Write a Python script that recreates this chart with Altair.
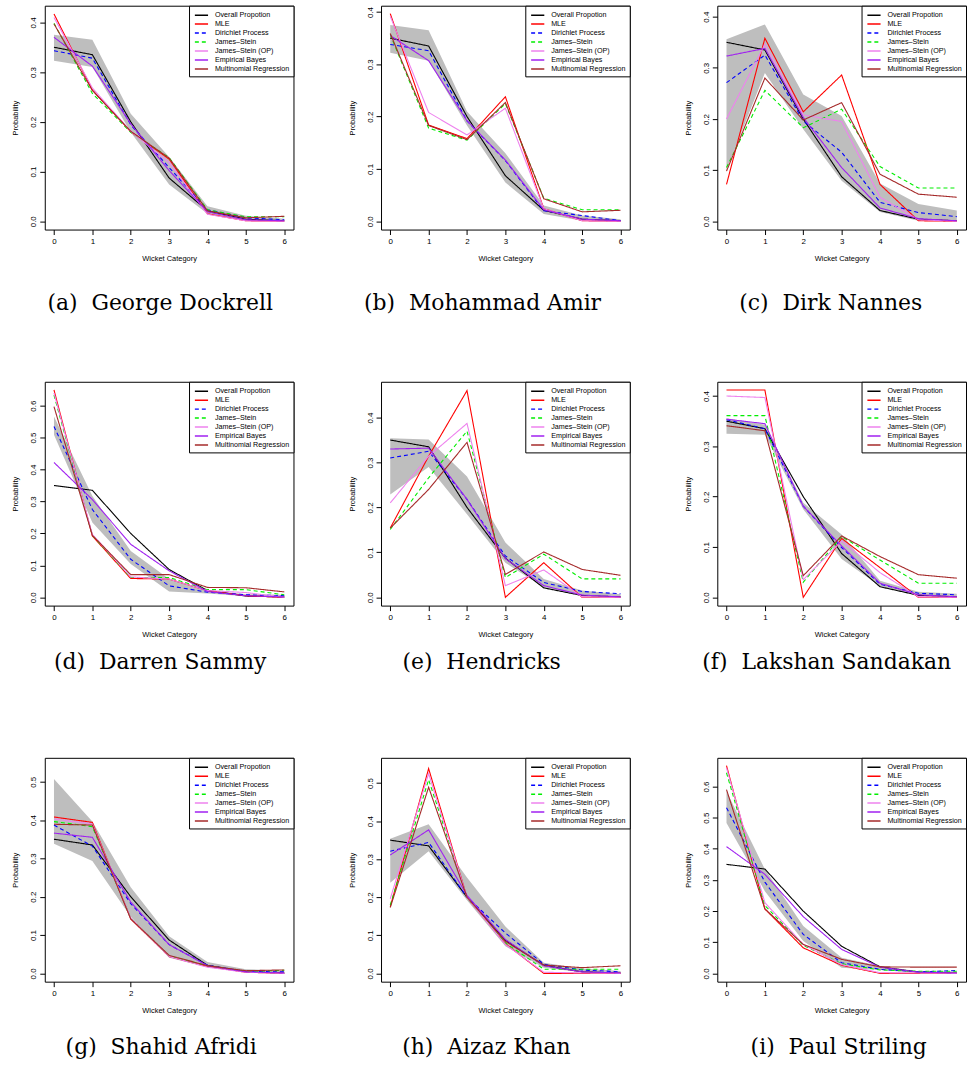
import altair as alt
import pandas as pd

X = [0, 1, 2, 3, 4, 5, 6]
METHODS = ["Overall Propotion", "MLE", "Dirichlet Process", "James\u2013Stein",
           "James\u2013Stein (OP)", "Empirical Bayes", "Multinomial Regression"]
COLORS = ["#000000", "#FF0000", "#0000FF", "#00EE00", "#EE82EE", "#A020F0", "#A52A2A"]
DASHES = [[1, 0], [1, 0], [4, 3], [4, 3], [1, 0], [1, 0], [1, 0]]

OVERALL = [0.350, 0.335, 0.200, 0.087, 0.021, 0.004, 0.001]

# (a) George Dockrell
A_MLE = [0.417, 0.264, 0.180, 0.125, 0.015, 0.001, 0.000]
A_DP = [0.343, 0.328, 0.194, 0.108, 0.023, 0.007, 0.003]
A_JS = [0.398, 0.257, 0.179, 0.128, 0.023, 0.009, 0.009]
A_JSOP = [0.410, 0.268, 0.181, 0.118, 0.014, 0.001, 0.000]
A_EB = [0.370, 0.312, 0.196, 0.102, 0.019, 0.003, 0.001]
A_MR = [0.397, 0.263, 0.181, 0.127, 0.021, 0.007, 0.010]
A_LO = [0.323, 0.310, 0.179, 0.074, 0.015, 0.001, 0.000]
A_HI = [0.375, 0.365, 0.216, 0.129, 0.030, 0.011, 0.005]

# (b) Mohammad Amir
B_MLE = [0.397, 0.184, 0.158, 0.238, 0.024, 0.001, 0.000]
B_DP = [0.338, 0.326, 0.192, 0.116, 0.020, 0.011, 0.001]
B_JS = [0.357, 0.178, 0.155, 0.225, 0.044, 0.022, 0.022]
B_JSOP = [0.392, 0.208, 0.165, 0.216, 0.024, 0.001, 0.000]
B_EB = [0.355, 0.307, 0.192, 0.117, 0.022, 0.004, 0.001]
B_MR = [0.359, 0.183, 0.156, 0.227, 0.043, 0.018, 0.021]
B_LO = [0.322, 0.307, 0.183, 0.074, 0.014, 0.001, 0.000]
B_HI = [0.375, 0.365, 0.210, 0.130, 0.030, 0.011, 0.004]

# (c) Dirk Nannes
C_MLE = [0.072, 0.358, 0.214, 0.286, 0.072, 0.001, 0.000]
C_DP = [0.271, 0.325, 0.196, 0.135, 0.037, 0.017, 0.009]
C_JS = [0.105, 0.256, 0.183, 0.219, 0.107, 0.065, 0.065]
C_JSOP = [0.200, 0.346, 0.208, 0.195, 0.047, 0.003, 0.000]
C_EB = [0.323, 0.338, 0.203, 0.105, 0.026, 0.005, 0.001]
C_MR = [0.098, 0.280, 0.198, 0.232, 0.092, 0.053, 0.047]
C_LO = [0.100, 0.290, 0.180, 0.079, 0.018, 0.001, 0.000]
C_HI = [0.356, 0.385, 0.248, 0.206, 0.074, 0.034, 0.021]

# (d) Darren Sammy
D_MLE = [0.649, 0.192, 0.059, 0.057, 0.021, 0.005, 0.000]
D_DP = [0.535, 0.275, 0.119, 0.036, 0.016, 0.008, 0.005]
D_JS = [0.633, 0.194, 0.062, 0.062, 0.024, 0.024, 0.008]
D_JSOP = [0.640, 0.197, 0.064, 0.057, 0.021, 0.015, 0.000]
D_EB = [0.422, 0.306, 0.166, 0.083, 0.018, 0.005, 0.001]
D_MR = [0.597, 0.194, 0.071, 0.071, 0.031, 0.030, 0.017]
D_LO = [0.509, 0.234, 0.104, 0.018, 0.012, 0.003, 0.000]
D_HI = [0.566, 0.317, 0.145, 0.057, 0.023, 0.010, 0.008]

# (e) Hendricks
E_MLE = [0.154, 0.314, 0.460, 0.000, 0.077, 0.000, 0.000]
E_DP = [0.310, 0.325, 0.218, 0.092, 0.033, 0.013, 0.008]
E_JS = [0.151, 0.266, 0.370, 0.044, 0.096, 0.041, 0.041]
E_JSOP = [0.210, 0.314, 0.387, 0.026, 0.061, 0.001, 0.000]
E_EB = [0.330, 0.332, 0.218, 0.086, 0.026, 0.005, 0.001]
E_MR = [0.154, 0.240, 0.345, 0.051, 0.101, 0.062, 0.049]
E_LO = [0.229, 0.290, 0.185, 0.077, 0.022, 0.004, 0.000]
E_HI = [0.354, 0.351, 0.269, 0.122, 0.041, 0.015, 0.007]

# (f) Lakshan Sandakan
F_MLE = [0.412, 0.412, 0.000, 0.117, 0.059, 0.000, 0.000]
F_DP = [0.353, 0.335, 0.181, 0.099, 0.026, 0.008, 0.005]
F_JS = [0.361, 0.361, 0.030, 0.121, 0.074, 0.028, 0.028]
F_JSOP = [0.400, 0.397, 0.035, 0.112, 0.049, 0.001, 0.000]
F_EB = [0.354, 0.345, 0.181, 0.102, 0.028, 0.005, 0.001]
F_MR = [0.341, 0.331, 0.043, 0.122, 0.081, 0.045, 0.038]
F_LO = [0.325, 0.323, 0.175, 0.076, 0.022, 0.003, 0.000]
F_HI = [0.356, 0.343, 0.188, 0.125, 0.033, 0.011, 0.007]

# (g) Shahid Afridi
G_MLE = [0.408, 0.394, 0.142, 0.044, 0.018, 0.003, 0.000]
G_DP = [0.387, 0.332, 0.182, 0.075, 0.021, 0.005, 0.004]
G_JS = [0.396, 0.383, 0.144, 0.045, 0.020, 0.005, 0.008]
G_JSOP = [0.403, 0.390, 0.144, 0.044, 0.016, 0.003, 0.000]
G_EB = [0.366, 0.355, 0.186, 0.075, 0.020, 0.004, 0.001]
G_MR = [0.389, 0.387, 0.142, 0.047, 0.020, 0.007, 0.009]
G_LO = [0.338, 0.293, 0.148, 0.041, 0.016, 0.003, 0.000]
G_HI = [0.507, 0.396, 0.225, 0.097, 0.030, 0.011, 0.007]

# (h) Aizaz Khan
H_MLE = [0.175, 0.538, 0.200, 0.078, 0.000, 0.000, 0.000]
H_DP = [0.321, 0.344, 0.200, 0.106, 0.024, 0.009, 0.004]
H_JS = [0.179, 0.509, 0.200, 0.080, 0.011, 0.011, 0.011]
H_JSOP = [0.196, 0.525, 0.200, 0.076, 0.003, 0.001, 0.000]
H_EB = [0.311, 0.377, 0.205, 0.089, 0.020, 0.004, 0.001]
H_MR = [0.173, 0.489, 0.200, 0.084, 0.022, 0.015, 0.020]
H_LO = [0.238, 0.321, 0.192, 0.071, 0.015, 0.003, 0.000]
H_HI = [0.354, 0.392, 0.252, 0.123, 0.028, 0.013, 0.006]

# (i) Paul Striling
I_MLE = [0.667, 0.207, 0.082, 0.026, 0.000, 0.000, 0.000]
I_DP = [0.532, 0.293, 0.125, 0.034, 0.013, 0.005, 0.009]
I_JS = [0.644, 0.218, 0.090, 0.031, 0.011, 0.007, 0.007]
I_JSOP = [0.660, 0.227, 0.093, 0.028, 0.002, 0.001, 0.000]
I_EB = [0.407, 0.318, 0.182, 0.077, 0.020, 0.004, 0.001]
I_MR = [0.590, 0.207, 0.093, 0.045, 0.021, 0.020, 0.020]
I_LO = [0.483, 0.264, 0.104, 0.018, 0.011, 0.002, 0.000]
I_HI = [0.585, 0.334, 0.152, 0.050, 0.024, 0.007, 0.005]

CAPTIONS = ["(a)\u00a0 George Dockrell", "(b)\u00a0 Mohammad Amir", "(c)\u00a0 Dirk Nannes",
            "(d)\u00a0 Darren Sammy", "(e)\u00a0 Hendricks", "(f)\u00a0 Lakshan Sandakan",
            "(g)\u00a0 Shahid Afridi", "(h)\u00a0 Aizaz Khan", "(i)\u00a0 Paul Striling"]

# upper end of each panel's y axis
Y_TOP = [0.4335, 0.412, 0.4215, 0.6747, 0.4797, 0.4283, 0.5624, 0.5663, 0.692]

PANELS = [
    ([OVERALL, A_MLE, A_DP, A_JS, A_JSOP, A_EB, A_MR], A_LO, A_HI),
    ([OVERALL, B_MLE, B_DP, B_JS, B_JSOP, B_EB, B_MR], B_LO, B_HI),
    ([OVERALL, C_MLE, C_DP, C_JS, C_JSOP, C_EB, C_MR], C_LO, C_HI),
    ([OVERALL, D_MLE, D_DP, D_JS, D_JSOP, D_EB, D_MR], D_LO, D_HI),
    ([OVERALL, E_MLE, E_DP, E_JS, E_JSOP, E_EB, E_MR], E_LO, E_HI),
    ([OVERALL, F_MLE, F_DP, F_JS, F_JSOP, F_EB, F_MR], F_LO, F_HI),
    ([OVERALL, G_MLE, G_DP, G_JS, G_JSOP, G_EB, G_MR], G_LO, G_HI),
    ([OVERALL, H_MLE, H_DP, H_JS, H_JSOP, H_EB, H_MR], H_LO, H_HI),
    ([OVERALL, I_MLE, I_DP, I_JS, I_JSOP, I_EB, I_MR], I_LO, I_HI),
]

CAPTION_DX = [-9, -23, -11, -9, -24, -15, -8, -19, -3]
CAPTION_OFFSET = [31, 14, 23]   # per row

SANS = "Liberation Sans"
SERIF = "DejaVu Serif"


def make_legend():
    return alt.Legend(
        title=None, orient="top-right", offset=0, strokeColor="black", fillColor="white",
        padding=4, cornerRadius=0, symbolType="M-1.5,0L1.5,0", symbolSize=78,
        symbolStrokeWidth=1.5, symbolOffset=3, labelOffset=8, rowPadding=0,
        labelFont=SANS, labelFontSize=7.2, labelColor="black",
    )


def panel(series, lo, hi, caption, ytop, dx, cap_off):
    rows = []
    for m, vals in zip(METHODS, series):
        for x, v in zip(X, vals):
            rows.append({"method": m, "x": x, "p": v})
    df = pd.DataFrame(rows)
    band = pd.DataFrame({"x": X, "lo": lo, "hi": hi})
    ydom = [-ytop / 26.0, ytop]
    yticks = [round(t / 10, 1) for t in range(0, 10) if t / 10 <= ytop]

    xscale = alt.Scale(domain=[-0.24, 6.24], nice=False, zero=False)
    yscale = alt.Scale(domain=ydom, nice=False, zero=False)

    xaxis = alt.Axis(
        values=X, format="d", title="Wicket Category", domain=False, grid=False,
        tickSize=5, tickColor="black", labelPadding=3, labelFont=SANS, labelFontSize=8,
        labelColor="black", labelFlush=False, titleFont=SANS, titleFontSize=7.5,
        titleFontWeight="normal", titleColor="black", titlePadding=9,
    )
    yaxis = alt.Axis(
        values=yticks, format=".1f", title="Probability", domain=False, grid=False,
        tickSize=5, tickColor="black", labelAngle=270, labelAlign="center",
        labelBaseline="bottom", labelPadding=2, labelFont=SANS, labelFontSize=8,
        labelColor="black", labelFlush=False, titleFont=SANS, titleFontSize=7.5,
        titleFontWeight="normal", titleColor="black", titlePadding=10,
    )

    area = alt.Chart(band).mark_area(color="#BEBEBE", opacity=1).encode(
        x=alt.X("x:Q", scale=xscale, axis=xaxis),
        y=alt.Y("lo:Q", scale=yscale, axis=yaxis),
        y2="hi:Q",
    )
    lines = alt.Chart(df).mark_line(strokeWidth=1.1, clip=True).encode(
        x=alt.X("x:Q", scale=xscale, axis=xaxis),
        y=alt.Y("p:Q", scale=yscale, axis=yaxis),
        color=alt.Color("method:N", scale=alt.Scale(domain=METHODS, range=COLORS),
                        legend=make_legend()),
        strokeDash=alt.StrokeDash("method:N", scale=alt.Scale(domain=METHODS, range=DASHES),
                                  legend=make_legend()),
    )
    return alt.layer(area, lines).properties(
        width=250, height=225,
        title=alt.TitleParams(
            caption, orient="bottom", anchor="middle", frame="group", font=SERIF,
            fontSize=22, fontWeight="normal", color="black", baseline="top",
            offset=cap_off, dx=dx,
        ),
    )


charts = [panel(s, lo, hi, cap, yt, CAPTION_DX[k], CAPTION_OFFSET[k // 3])
          for k, ((s, lo, hi), cap, yt) in enumerate(zip(PANELS, CAPTIONS, Y_TOP))]


def ind(c):
    return c.resolve_scale(color="independent", strokeDash="independent",
                           x="independent", y="independent").resolve_legend(
        color="independent", strokeDash="independent")


rows = [ind(alt.hconcat(*charts[i:i + 3], spacing=53)) for i in range(0, 9, 3)]
lower = ind(alt.vconcat(rows[1], rows[2], spacing=84))
chart = ind(alt.vconcat(rows[0], lower, spacing=67)).properties(
    padding={"left": 11, "top": 2, "right": 0, "bottom": 0}
).configure_view(stroke="black", strokeWidth=1)

chart.save("out.html", embed_options={"renderer": "svg", "actions": False})
